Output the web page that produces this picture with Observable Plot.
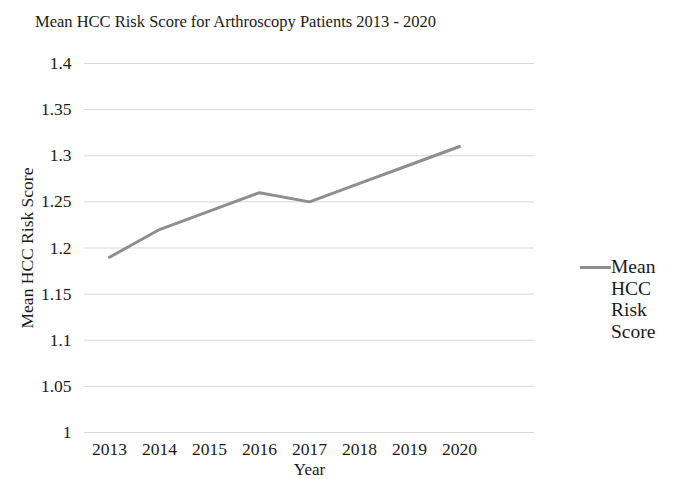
<!DOCTYPE html>
<html>
<head>
<meta charset="utf-8">
<script src="https://cdn.jsdelivr.net/npm/d3@7"></script>
<script src="https://cdn.jsdelivr.net/npm/@observablehq/plot@0.6"></script>
<style>
  html, body { margin: 0; padding: 0; background: #fff; }
  #wrap { position: relative; width: 674px; height: 479px; font-family: "Liberation Serif", serif; color: #1a1a1a; }
  #title { position: absolute; left: 35px; top: 12px; font-family: "Liberation Serif", serif; font-size: 16.5px; white-space: nowrap; }
  #legend { position: absolute; left: 580px; top: 256px; display: flex; align-items: flex-start; font-family: "Liberation Serif", serif; font-size: 19.5px; line-height: 21.5px; }
  #legend .swatch { width: 31px; height: 3px; background: #8e8e8e; margin-top: 10px; }
  svg { display: block; }
  svg text { font-family: "Liberation Serif", serif; }
</style>
</head>
<body>
<div id="wrap">
  <div id="chart"></div>
  <div id="title"></div>
  <div id="legend"><div class="swatch"></div><div id="legendText"></div></div>
</div>
<script>
const title = "Mean HCC Risk Score for Arthroscopy Patients 2013 - 2020";
const seriesName = "Mean HCC Risk Score";
const years = [2013, 2014, 2015, 2016, 2017, 2018, 2019, 2020];
const scores = [1.19, 1.22, 1.24, 1.26, 1.25, 1.27, 1.29, 1.31];
const yTicks = [1, 1.05, 1.1, 1.15, 1.2, 1.25, 1.3, 1.35, 1.4];
const yTickLabels = ["1", "1.05", "1.1", "1.15", "1.2", "1.25", "1.3", "1.35", "1.4"];
const xLabel = "Year";
const yLabel = "Mean HCC Risk Score";

const data = years.map((y, i) => ({year: y, score: scores[i]}));
const yTickData = yTicks.map((v, i) => ({v, label: yTickLabels[i]}));

document.getElementById("title").textContent = title;
document.getElementById("legendText").innerHTML = seriesName.split(" ").join("<br>");

const serif = "Liberation Serif";
const chart = Plot.plot({
  width: 674,
  height: 479,
  marginLeft: 84,
  marginRight: 140,
  marginTop: 63,
  marginBottom: 47,
  style: {fontFamily: serif, fontSize: "17px", color: "#1a1a1a", background: "#fff"},
  x: {type: "linear", domain: [2012.5, 2021.5], axis: null},
  y: {domain: [1, 1.4], axis: null},
  marks: [
    Plot.gridY(yTicks, {stroke: "#d9d9d9", strokeOpacity: 1, strokeWidth: 1}),
    Plot.text(yTickData, {y: "v", text: "label", frameAnchor: "left", dx: -13, textAnchor: "end", lineAnchor: "middle", fontFamily: serif, fontSize: 17.5, fill: "#1a1a1a"}),
    Plot.text(years, {x: d => d, text: d => String(d), frameAnchor: "bottom", dy: 17, textAnchor: "middle", lineAnchor: "middle", fontFamily: serif, fontSize: 17.5, fill: "#1a1a1a"}),
    Plot.text([yLabel], {text: d => d, frameAnchor: "left", dx: -57, rotate: -90, textAnchor: "middle", lineAnchor: "middle", fontFamily: serif, fontSize: 17.5, fill: "#1a1a1a"}),
    Plot.text([xLabel], {text: d => d, frameAnchor: "bottom", dy: 37.5, textAnchor: "middle", lineAnchor: "middle", fontFamily: serif, fontSize: 17, fill: "#1a1a1a"}),
    Plot.line(data, {x: "year", y: "score", stroke: "#8e8e8e", strokeWidth: 3})
  ]
});
document.getElementById("chart").appendChild(chart);
</script>
</body>
</html>
